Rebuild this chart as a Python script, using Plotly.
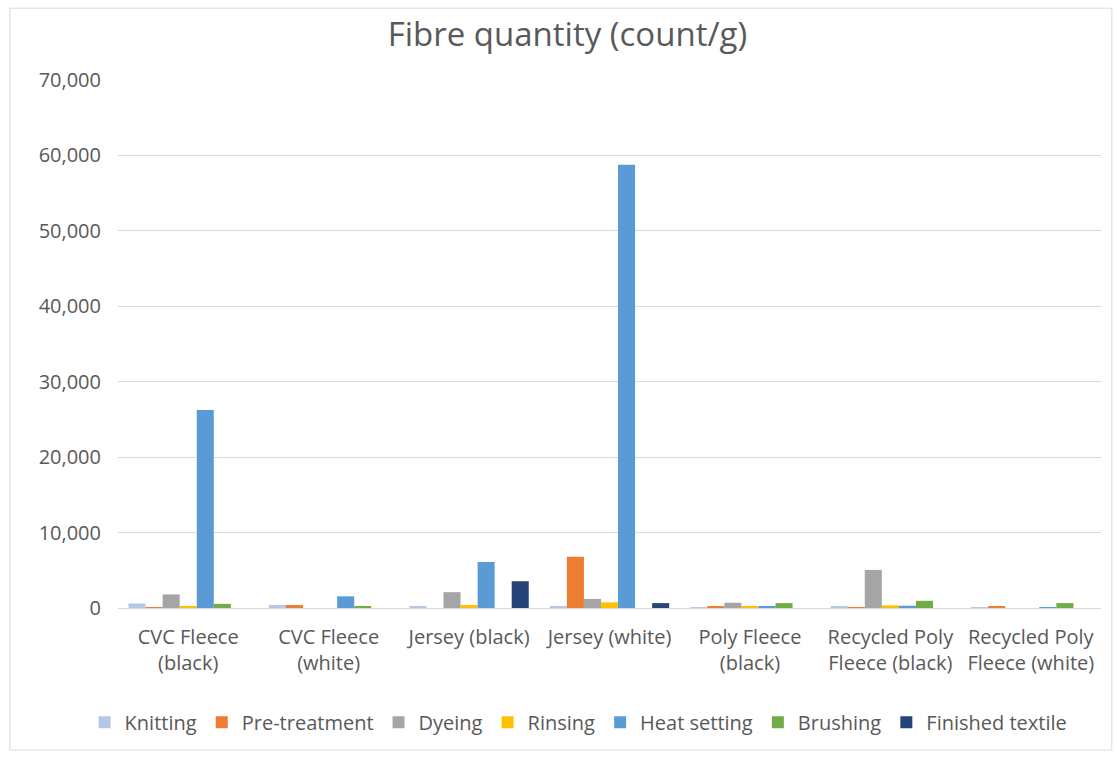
import plotly.graph_objects as go

# Fabric types along the x axis
fabrics = [
    "CVC Fleece<br>(black)",
    "CVC Fleece<br>(white)",
    "Jersey (black)",
    "Jersey (white)",
    "Poly Fleece<br>(black)",
    "Recycled Poly<br>Fleece (black)",
    "Recycled Poly<br>Fleece (white)",
]

# Fibre counts (count/g) for each processing stage
knitting = [600, 400, 250, 250, 100, 200, 100]
pre_treatment = [50, 400, 0, 6800, 150, 100, 150]
dyeing = [1800, 0, 2100, 1200, 700, 5050, 0]
rinsing = [200, 0, 400, 750, 200, 350, 0]
heat_setting = [26250, 1550, 6100, 58750, 150, 300, 100]
brushing = [550, 150, 0, 0, 650, 950, 650]
finished_textile = [0, 0, 3550, 650, 0, 0, 0]

series = [
    ("Knitting", knitting, "#B4C7E7"),
    ("Pre-treatment", pre_treatment, "#ED7D31"),
    ("Dyeing", dyeing, "#A5A5A5"),
    ("Rinsing", rinsing, "#FFC000"),
    ("Heat setting", heat_setting, "#5B9BD5"),
    ("Brushing", brushing, "#70AD47"),
    ("Finished textile", finished_textile, "#264478"),
]

font_family = "Open Sans, Lato, sans-serif"
text_grey = "#595959"

fig = go.Figure()
for name, values, color in series:
    fig.add_trace(go.Bar(name=name, x=fabrics, y=values, marker_color=color,
                         marker_line_width=0))

fig.update_layout(
    width=1117,
    height=758,
    paper_bgcolor="white",
    plot_bgcolor="white",
    barmode="group",
    bargap=0.15,
    bargroupgap=0,
    margin=dict(l=118, r=16, t=80, b=150, autoexpand=False),
    font=dict(family=font_family, color=text_grey, size=20),
    title=dict(
        text="Fibre quantity (count/g)",
        x=0.508, xanchor="center",
        y=0.955, yanchor="middle",
        font=dict(family=font_family, size=33, color=text_grey),
    ),
    legend=dict(
        orientation="h",
        xref="container", yref="container",
        x=0.518, xanchor="center",
        y=0.047, yanchor="middle",
        bgcolor="rgba(0,0,0,0)",
        font=dict(size=20, color=text_grey),
        itemwidth=30,
        tracegroupgap=0,
    ),
    xaxis=dict(
        showgrid=False,
        showline=True,
        linecolor="#D9D9D9",
        linewidth=1,
        tickangle=0,
        ticks="",
        tickfont=dict(size=20, color=text_grey),
        ticklabelstandoff=11,
    ),
    yaxis=dict(
        range=[0, 70000],
        dtick=10000,
        tickformat=",",
        showgrid=True,
        gridcolor="#D9D9D9",
        gridwidth=1,
        zeroline=False,
        ticks="",
        tickfont=dict(size=20, color=text_grey),
        ticklabelstandoff=16,
    ),
    shapes=[
        dict(type="rect", xref="paper", yref="paper",
             x0=-0.11, x1=1.011, y0=-0.269, y1=1.136,
             line=dict(color="#D9D9D9", width=1), layer="below"),
    ],
)

fig.write_html("out.html")
